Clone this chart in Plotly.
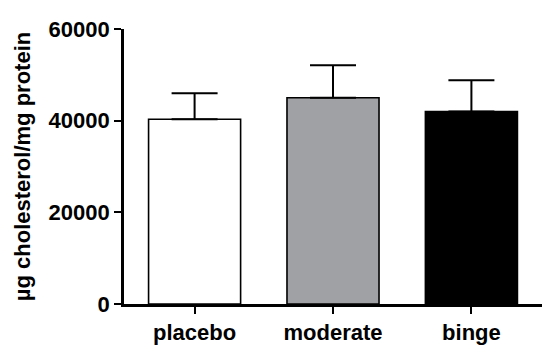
import plotly.graph_objects as go

categories = ["placebo", "moderate", "binge"]
means = [40300, 45000, 42000]
sem = [5700, 7100, 6800]
colors = ["#ffffff", "#a0a1a4", "#000000"]
y_ticks = [0, 20000, 40000, 60000]

fig = go.Figure()
fig.add_trace(go.Bar(
    x=categories,
    y=means,
    marker=dict(color=colors, line=dict(color="black", width=1.6)),
    error_y=dict(type="data", symmetric=False, array=sem, arrayminus=[0, 0, 0],
                 color="black", thickness=2, width=23),
    width=0.665,
))

font_family = "Liberation Sans, Arial, sans-serif"
# page body has an 8px default margin, so the figure is offset by (8, 8)
fig.update_layout(
    width=542, height=345,
    margin=dict(l=116, r=8, t=21, b=46),
    paper_bgcolor="white", plot_bgcolor="white",
    showlegend=False,
    font=dict(family=font_family, color="black"),
)
fig.update_xaxes(
    range=[-0.51, 2.51],
    showline=True, linecolor="black", linewidth=2.6,
    ticks="outside", ticklen=7, tickwidth=2.4, tickcolor="black",
    tickfont=dict(family=font_family, size=22, color="black", weight="bold"),
    showgrid=False, zeroline=False,
)
fig.update_yaxes(
    range=[0, 60000],
    tickvals=y_ticks, ticktext=[str(v) for v in y_ticks],
    showline=True, linecolor="black", linewidth=2.6,
    ticks="outside", ticklen=7, tickwidth=2.4, tickcolor="black",
    tickfont=dict(family=font_family, size=22, color="black", weight="bold"),
    showgrid=False, zeroline=False,
    title=dict(text="µg cholesterol/mg protein",
               font=dict(family=font_family, size=22, color="black", weight="bold"),
               standoff=12),
)
fig.write_html("out.html")
